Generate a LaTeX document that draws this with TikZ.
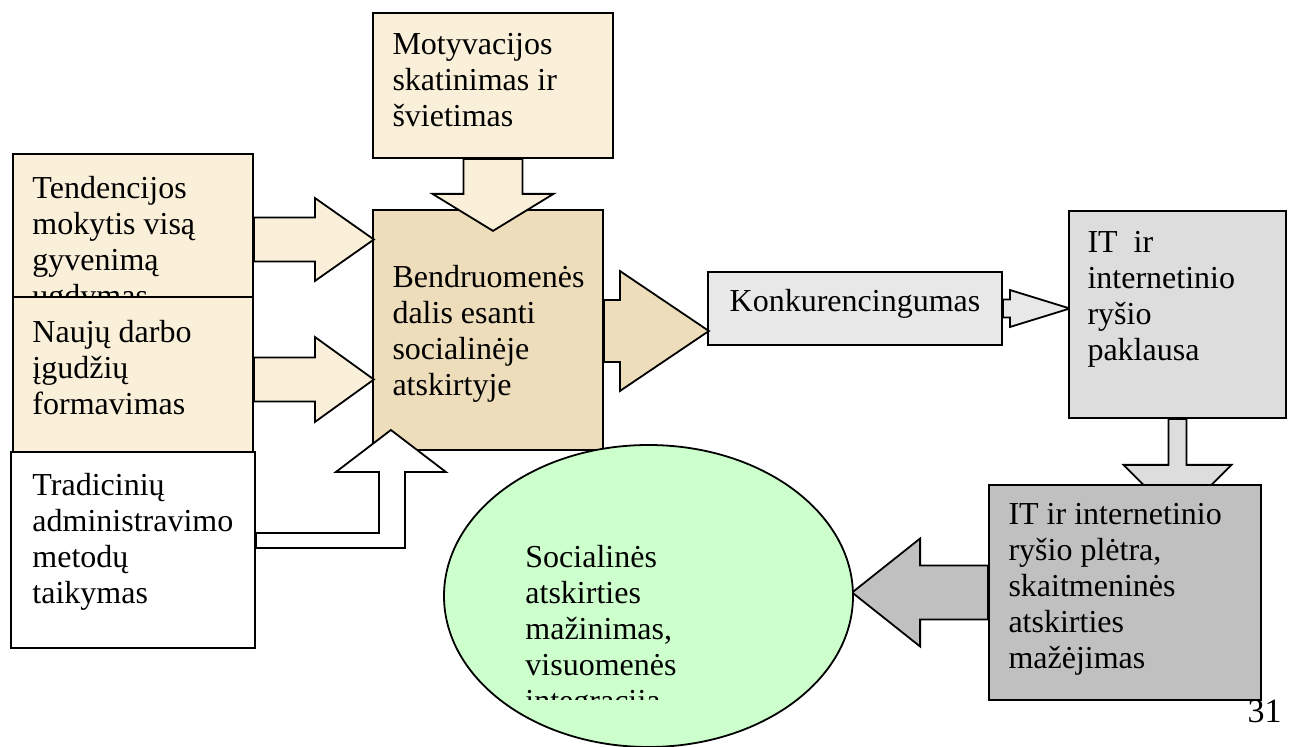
\documentclass[tikz,border=0pt]{standalone}
\usepackage{fontspec}
\setmainfont{Liberation Serif}
\usepackage{tikz}
\usetikzlibrary{shapes.geometric, positioning, calc}
\definecolor{ParchLight}{HTML}{FAF0DA}
\definecolor{ParchTan}{HTML}{EEDDBA}
\definecolor{GreyLight}{HTML}{E8E8E8}
\definecolor{GreyMid}{HTML}{DDDDDD}
\definecolor{GreyDark}{HTML}{C0C0C0}
\definecolor{MintGreen}{HTML}{CCFFCC}
\tikzset{
  % Box styles
  factorbox/.style={rectangle, draw=black, line width=0.9pt, fill=ParchLight, inner sep=0pt},
  boxtext/.style={anchor=north west, inner sep=0pt, align=left, font=\fontsize{16}{18}\selectfont},
  % Arrow styles
  blockpath/.style={draw=black, line width=0.9pt, line join=miter}
}
% style, start, angle, length, head length, shaft half, head half
\newcommand{\blockarrow}[7]{%
  \begin{scope}[shift={#2}, rotate=#3]
    \draw[blockpath, #1] (0,-#6) -- ({#4-#5},-#6) -- ({#4-#5},-#7) -- (#4,0) -- ({#4-#5},#7) -- ({#4-#5},#6) -- (0,#6) -- cycle;
  \end{scope}}

\begin{document}
\begin{tikzpicture}[x=0.5pt, y=-0.5pt]
  \useasboundingbox (0,0) rectangle (1289,747);

  % Top input
  \node[factorbox, minimum width=120pt, minimum height=72.5pt] (motiv) at (493,85.5) {};
  \node[boxtext] (motivtxt) at ($(motiv.north west)+(20,21)$) {Motyvacijos\\skatinimas ir\\švietimas};

  % Core
  \node[factorbox, fill=ParchTan, minimum width=115pt, minimum height=120pt] (core) at (488,330) {};
  \node[boxtext] (coretxt) at ($(core.north west)+(20,56)$) {Bendruomenės\\dalis esanti\\socialinėje\\atskirtyje};
  \blockarrow{fill=ParchLight}{(motiv.south)}{-90}{72}{37}{29.5}{60.5}

  % Left inputs
  \node[factorbox, minimum width=120pt, minimum height=71.5pt] (trend) at (133,225.5) {};
  \node[boxtext] (trendtxt) at ($(trend.north west)+(20,23)$) {Tendencijos\\mokytis visą\\gyvenimą\\ugdymas};
  \node[factorbox, minimum width=120pt, minimum height=77.5pt] (skills) at (133,374.5) {};
  \node[boxtext] (skillstxt) at ($(skills.north west)+(20,24)$) {Naujų darbo\\įgudžių\\formavimas};
  \node[factorbox, fill=white, minimum width=122pt, minimum height=98pt] (admin) at (133,550) {};
  \node[boxtext] (admintxt) at ($(admin.north west)+(22,22)$) {Tradicinių\\administravimo\\metodų\\taikymas};

  \blockarrow{fill=ParchLight}{($(trend.east)+(0,14)$)}{0}{120}{59}{22}{41.5}
  \blockarrow{fill=ParchLight}{($(skills.east)+(0,5)$)}{0}{120}{59}{22}{42.5}
  \draw[blockpath, fill=white] ($(admin.east)+(0,-2)$) -- ++(149,0) -- ++(0,-76) -- ++(41,0) -- ++(-55,-42)
    -- ++(-55,42) -- ++(43,0) -- ++(0,61) -- ++(-123,0) -- cycle;

  % Output chain
  \node[factorbox, fill=GreyLight, minimum width=147pt, minimum height=36.5pt, text depth=8.5pt, font=\fontsize{16}{18}\selectfont] (compet) at (855,308.5) {Konkurencingumas};
  \blockarrow{fill=ParchTan}{($(core.east)+(0,1)$)}{0}{105}{89}{31}{60}
  \blockarrow{fill=GreyLight}{(compet.east)}{0}{67}{60}{9}{18.5}

  \node[factorbox, fill=GreyMid, minimum width=108.5pt, minimum height=103.5pt] (demand) at (1177.5,314.5) {};
  \node[boxtext] (demandtxt) at ($(demand.north west)+(19,21)$) {IT~ ir\\internetinio\\ryšio\\paklausa};
  \blockarrow{fill=GreyMid}{(demand.south)}{-90}{100}{54}{9}{54}

  \node[factorbox, fill=GreyDark, minimum width=136pt, minimum height=107.5pt] (growth) at (1125,592.5) {};
  \node[boxtext] (growthtxt) at ($(growth.north west)+(20,19)$) {IT ir internetinio\\ryšio plėtra,\\skaitmeninės\\atskirties\\mažėjimas};
  \blockarrow{fill=GreyDark}{(growth.west)}{180}{136}{68}{27}{54}

  % Result
  \node[ellipse, draw=black, line width=0.9pt, fill=MintGreen, minimum width=204.5pt, minimum height=151pt, inner sep=0pt] (result) at (648.5,596) {};
  \begin{scope}
    \clip (0,0) rectangle (1289,699);
    \node[boxtext] (resulttxt) at (525,545) {Socialinės\\atskirties\\mažinimas,\\visuomenės\\integracija};
  \end{scope}

  \node[anchor=base east, inner sep=0pt, font=\fontsize{17}{20}\selectfont] (pagenum) at (1282,722) {31};
\end{tikzpicture}
\end{document}
